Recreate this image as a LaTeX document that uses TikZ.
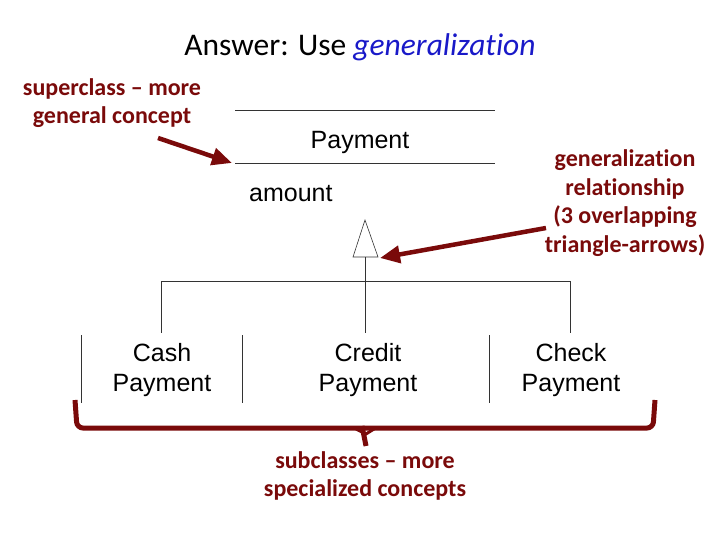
\documentclass[tikz,border=0pt]{standalone}
\usepackage{fontspec}
\setmainfont{Carlito}[Ligatures=NoCommon]
\newfontfamily\arialf{Liberation Sans}
\usetikzlibrary{arrows.meta}
\definecolor{dred}{RGB}{122,10,10}
\definecolor{gblue}{RGB}{25,25,200}
\begin{document}
\begin{tikzpicture}[x=1pt,y=-1pt,
  note/.style={text=dred,font=\fontsize{24}{28.5}\selectfont\bfseries,align=center,inner sep=0pt},
  cls/.style={font=\arialf\fontsize{25}{30}\selectfont,align=center,inner sep=0pt},
  callout/.style={draw=dred,line width=4.5pt,-{Triangle[length=20pt,width=17pt]}},
  uml/.style={draw=black!80,line width=0.7pt},
  brace/.style={draw=dred,line width=5pt,rounded corners=6pt}]
\useasboundingbox (0,0) rectangle (720,540);

% title
\node[font=\fontsize{31.5}{36}\selectfont,anchor=base,inner sep=0pt] (title) at (360,56)
  {Answer: Use \textcolor{gblue}{\itshape generalization}};

% superclass
\coordinate (ptl) at (235,110);
\coordinate (ptr) at (495,110);
\coordinate (pml) at (235,163);
\coordinate (pmr) at (495,163);
\draw[uml] (ptl) -- (ptr);
\draw[uml] (pml) -- (pmr);
\node[cls] (payment) at (360,142) {Payment};
\node[cls,anchor=base west] (amount) at (249,202) {amount};

% generalization triangle
\coordinate (apex) at (365,220);
\coordinate (bl) at (353,257);
\coordinate (br) at (378,257);
\coordinate (bm) at (365,257);
\draw[uml,line width=0.6pt] (apex) -- (br) -- (bl) -- cycle;
\coordinate (hub) at (365,281);
\coordinate (hl) at (161,281);
\coordinate (hr) at (570,281);

% subclasses
\node[cls] (cash) at (162,370) {Cash\\Payment};
\node[cls] (credit) at (368,370) {Credit\\Payment};
\node[cls] (check) at (571,370) {Check\\Payment};
\coordinate (cashtop) at (161,333);
\coordinate (credittop) at (365,333);
\coordinate (checktop) at (570,333);
\draw[uml] (bm) -- (hub);
\draw[uml] (hl) -- (hr);
\draw[uml] (hl) -- (cashtop);
\draw[uml] (hub) -- (credittop);
\draw[uml] (hr) -- (checktop);
% separators
\foreach \x in {81,242,489} \draw[uml] (\x,335) -- (\x,403);

% notes
\node[note] (sup) at (112,103) {superclass -- more\\general concept};
\coordinate (supend) at (158,138);
\coordinate (suptip) at (232,163);
\draw[callout] (supend) -- (suptip);

\node[note] (gen) at (625,203) {generalization\\relationship\\(3 overlapping\\triangle-arrows)};
\coordinate (genend) at (546,228);
\coordinate (gentip) at (380,258);
\draw[callout] (genend) -- (gentip);

% brace
\draw[brace] (75,400) -- (77,428) -- (653,428) -- (655,400);
\draw[draw=dred,line width=5pt] (362,426) -- (366,446);
\draw[draw=dred,line width=3pt] (356,429) -- (366,434) -- (374,429);

\node[note] (subs) at (365,476) {subclasses -- more\\specialized concepts};
\end{tikzpicture}
\end{document}
